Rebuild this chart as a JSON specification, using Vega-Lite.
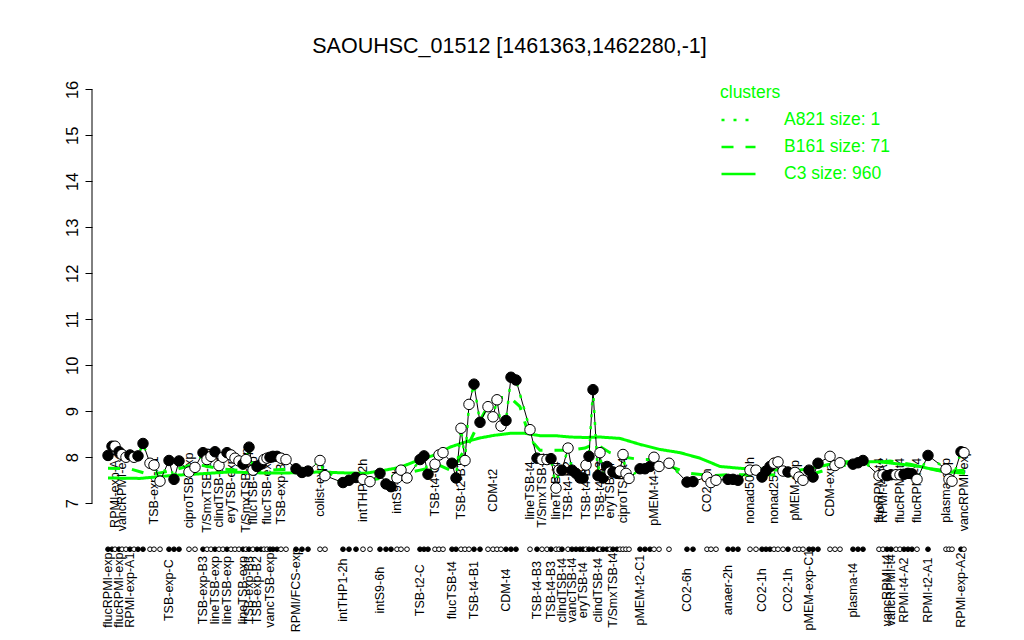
{
"$schema": "https://vega.github.io/schema/vega-lite/v6.json",
"width": 883, "height": 561,
"autosize": {"type": "none"},
"padding": {"left": 92, "top": 71, "right": 49, "bottom": 8},
"background": "white",
"title": {"text": "SAOUHSC_01512 [1461363,1462280,-1]", "fontSize": 21.5, "font": "Liberation Sans", "fontWeight": "normal", "anchor": "middle", "dx": -24, "offset": 17, "dy": 20, "baseline": "alphabetic", "color": "black"},
"config": {"view": {"stroke": null}, "font": "Liberation Sans"},
"datasets": {
"pts": [
{"p":8,"y":8.04,"f":1,"lb":"flucRPMI-exp"},{"p":12,"y":8.24,"f":1},{"p":15,"y":8.24,"f":0,"lb":"RPMI-exp-A2"},{"p":19,"y":8.12,"f":1,"lb":"flucRPMI-exp"},{"p":22,"y":8.06,"f":0,"lb":"vancRPMI-exp"},{"p":26,"y":8.0,"f":0},{"p":30,"y":8.05,"f":1,"lb":"RPMI-exp-A1"},{"p":34,"y":8.0,"f":0},{"p":38,"y":8.03,"f":1},{"p":43,"y":8.3,"f":1},
{"p":50,"y":7.87,"f":0},{"p":54,"y":7.83,"f":0,"lb":"TSB-exp-A1"},{"p":60,"y":7.48,"f":0},
{"p":69,"y":7.93,"f":1,"lb":"TSB-exp-C"},{"p":74,"y":7.52,"f":1},{"p":79,"y":7.92,"f":1},
{"p":89,"y":7.68,"f":0,"lb":"ciproTSB-exp"},{"p":95,"y":7.78,"f":0},
{"p":103,"y":8.1,"f":1,"lb":"TSB-exp-B3"},{"p":107,"y":7.95,"f":0,"lb":"T/SmxTSB-exp"},{"p":111,"y":8.02,"f":0},{"p":115,"y":8.12,"f":1,"lb":"lineTSB-exp"},{"p":119,"y":7.82,"f":0,"lb":"clindTSB-exp"},{"p":123,"y":8.0,"f":0},{"p":127,"y":8.1,"f":1,"lb":"lineTSB-exp"},{"p":131,"y":8.05,"f":0,"lb":"eryTSB-exp"},{"p":135,"y":7.98,"f":0},{"p":139,"y":7.92,"f":0},{"p":143,"y":7.85,"f":1,"lb":"lineTSB-exp"},{"p":146,"y":7.95,"f":0,"lb":"T/SmxTSB-exp"},{"p":149,"y":8.22,"f":1,"lb":"TSB-exp-B3"},{"p":153,"y":7.72,"f":0,"lb":"flucTSB-exp"},{"p":157,"y":7.8,"f":1,"lb":"TSB-exp-B2"},{"p":161,"y":7.85,"f":1},{"p":164,"y":7.95,"f":0},{"p":167,"y":7.98,"f":0,"lb":"flucTSB-exp"},{"p":170,"y":8.0,"f":1,"lb":"vancTSB-exp"},{"p":173,"y":8.02,"f":1},{"p":177,"y":8.02,"f":1},{"p":181,"y":7.98,"f":0,"lb":"TSB-exp-B1"},{"p":186,"y":7.95,"f":0},
{"p":196,"y":7.75,"f":1,"lb":"RPMI/FCS-exp"},{"p":202,"y":7.67,"f":1},{"p":208,"y":7.7,"f":1},
{"p":220,"y":7.93,"f":0,"lb":"colist-exp"},{"p":225,"y":7.6,"f":0},
{"p":243,"y":7.45,"f":1,"lb":"intTHP1-2h"},{"p":249,"y":7.5,"f":1},{"p":256,"y":7.56,"f":1},
{"p":263,"y":7.52,"f":0,"lb":"intTHP1-2h"},{"p":270,"y":7.47,"f":0},
{"p":280,"y":7.65,"f":1,"lb":"intS9-6h"},{"p":286,"y":7.42,"f":1},{"p":291,"y":7.36,"f":1},{"p":297,"y":7.55,"f":0,"lb":"intS9-2h"},{"p":301,"y":7.72,"f":0},{"p":307,"y":7.55,"f":0},
{"p":320,"y":7.95,"f":1,"lb":"TSB-t2-C"},{"p":324,"y":8.03,"f":1},{"p":328,"y":7.63,"f":1},{"p":335,"y":7.85,"f":0,"lb":"TSB-t4-C"},{"p":339,"y":8.05,"f":0},{"p":343,"y":8.1,"f":0},
{"p":352,"y":7.87,"f":1,"lb":"flucTSB-t4"},{"p":356,"y":7.55,"f":1},{"p":361,"y":8.63,"f":0,"lb":"TSB-t2-B1"},{"p":365,"y":7.93,"f":0},{"p":369,"y":9.15,"f":0},{"p":374,"y":9.59,"f":1,"lb":"TSB-t4-B1"},{"p":380,"y":8.76,"f":1},
{"p":388,"y":9.1,"f":0},{"p":393,"y":8.88,"f":0,"lb":"CDM-t2"},{"p":397,"y":9.25,"f":0},{"p":401,"y":8.68,"f":0},{"p":406,"y":8.8,"f":1,"lb":"CDM-t4"},{"p":411,"y":9.74,"f":1},{"p":416,"y":9.68,"f":1},
{"p":430,"y":8.6,"f":0,"lb":"lineTSB-t4"},{"p":437,"y":7.98,"f":1,"lb":"TSB-t4-B3"},{"p":442,"y":7.95,"f":0,"lb":"T/SmxTSB-t4"},{"p":447,"y":7.95,"f":0},{"p":451,"y":7.97,"f":1,"lb":"TSB-t4-B3"},
{"p":456,"y":7.33,"f":0,"lb":"lineTSB-t4"},{"p":459,"y":7.72,"f":0},{"p":462,"y":7.72,"f":1,"lb":"clindTSB-t4"},{"p":468,"y":8.2,"f":0,"lb":"TSB-t4-B2"},{"p":472,"y":7.72,"f":1,"lb":"vancTSB-t4"},{"p":476,"y":7.65,"f":1},{"p":480,"y":7.55,"f":1},{"p":483,"y":7.55,"f":1,"lb":"eryTSB-t4"},{"p":486,"y":7.83,"f":0,"lb":"TSB-t4-B1"},{"p":489,"y":8.02,"f":1},{"p":493,"y":9.47,"f":1},{"p":498,"y":7.6,"f":1,"lb":"clindTSB-t4"},{"p":500,"y":8.1,"f":0,"lb":"TSB-t4-B3"},{"p":503,"y":7.55,"f":1},{"p":507,"y":7.8,"f":1},{"p":510,"y":7.68,"f":0,"lb":"eryTSB-t4"},{"p":513,"y":7.68,"f":1,"lb":"T/SmxTSB-t4"},{"p":517,"y":7.65,"f":1},{"p":520,"y":7.7,"f":0},{"p":523,"y":8.06,"f":0,"lb":"ciproTSB-t4"},{"p":526,"y":7.65,"f":0},{"p":529,"y":7.54,"f":0},
{"p":540,"y":7.75,"f":1,"lb":"pMEM-t2-C1"},{"p":545,"y":7.75,"f":1},{"p":550,"y":7.8,"f":1},{"p":554,"y":8.0,"f":0,"lb":"pMEM-t4-C1"},{"p":559,"y":7.8,"f":0},
{"p":569,"y":7.87,"f":0},
{"p":587,"y":7.46,"f":1,"lb":"CO2-6h"},{"p":593,"y":7.47,"f":1},
{"p":607,"y":7.57,"f":0,"lb":"CO2-2h"},{"p":611,"y":7.45,"f":0},{"p":616,"y":7.5,"f":0},
{"p":628,"y":7.52,"f":1,"lb":"anaer-2h"},{"p":633,"y":7.52,"f":1},{"p":638,"y":7.5,"f":1},
{"p":650,"y":7.72,"f":0,"lb":"nonad50-1h"},{"p":656,"y":7.72,"f":0},{"p":662,"y":7.57,"f":1,"lb":"CO2-1h"},{"p":666,"y":7.7,"f":1},{"p":670,"y":7.8,"f":1},{"p":674,"y":7.87,"f":0,"lb":"nonad25-1h"},{"p":678,"y":7.9,"f":0},{"p":683,"y":7.7,"f":0},{"p":688,"y":7.68,"f":1,"lb":"CO2-1h"},
{"p":695,"y":7.67,"f":0,"lb":"pMEM-exp"},{"p":699,"y":7.57,"f":0},{"p":703,"y":7.5,"f":0},{"p":709,"y":7.72,"f":1,"lb":"pMEM-exp-C1"},{"p":713,"y":7.57,"f":1},{"p":718,"y":7.87,"f":1},
{"p":730,"y":8.02,"f":0,"lb":"CDM-exp"},{"p":735,"y":7.82,"f":0},{"p":740,"y":7.88,"f":0},
{"p":753,"y":7.85,"f":1,"lb":"plasma-t4"},{"p":758,"y":7.88,"f":1},{"p":763,"y":7.93,"f":1},
{"p":779,"y":7.6,"f":0,"lb":"flucRPMI-t4"},{"p":783,"y":7.62,"f":0,"lb":"RPMI-t4-A2"},{"p":787,"y":7.6,"f":1,"lb":"vancRPMI-t4"},{"p":791,"y":7.62,"f":1,"lb":"vancRPMI-t4"},{"p":796,"y":7.62,"f":0},{"p":800,"y":7.62,"f":0,"lb":"flucRPMI-t4"},{"p":804,"y":7.63,"f":1,"lb":"RPMI-t4-A2"},{"p":808,"y":7.65,"f":1},{"p":812,"y":7.64,"f":1},{"p":817,"y":7.52,"f":0,"lb":"flucRPMI-t4"},
{"p":828,"y":8.04,"f":1,"lb":"RPMI-t2-A1"},
{"p":846,"y":7.74,"f":0,"lb":"plasma-exp"},{"p":849,"y":7.52,"f":0},{"p":852,"y":7.48,"f":0},
{"p":861,"y":8.12,"f":1,"lb":"RPMI-exp-A2"},{"p":864,"y":8.1,"f":0,"lb":"vancRPMI-exp"}
],
"cl": [
{"p":8,"y":7.55,"c":"C3 size: 960"},{"p":40,"y":7.54,"c":"C3 size: 960"},{"p":70,"y":7.6,"c":"C3 size: 960"},{"p":100,"y":7.64,"c":"C3 size: 960"},{"p":130,"y":7.68,"c":"C3 size: 960"},{"p":160,"y":7.66,"c":"C3 size: 960"},{"p":190,"y":7.66,"c":"C3 size: 960"},{"p":220,"y":7.68,"c":"C3 size: 960"},{"p":245,"y":7.66,"c":"C3 size: 960"},{"p":265,"y":7.65,"c":"C3 size: 960"},{"p":285,"y":7.72,"c":"C3 size: 960"},{"p":300,"y":7.78,"c":"C3 size: 960"},{"p":320,"y":7.95,"c":"C3 size: 960"},{"p":335,"y":8.05,"c":"C3 size: 960"},{"p":350,"y":8.22,"c":"C3 size: 960"},{"p":365,"y":8.33,"c":"C3 size: 960"},{"p":380,"y":8.42,"c":"C3 size: 960"},{"p":395,"y":8.48,"c":"C3 size: 960"},{"p":410,"y":8.52,"c":"C3 size: 960"},{"p":425,"y":8.52,"c":"C3 size: 960"},{"p":440,"y":8.47,"c":"C3 size: 960"},{"p":455,"y":8.47,"c":"C3 size: 960"},{"p":470,"y":8.44,"c":"C3 size: 960"},{"p":485,"y":8.43,"c":"C3 size: 960"},{"p":500,"y":8.44,"c":"C3 size: 960"},{"p":520,"y":8.41,"c":"C3 size: 960"},{"p":540,"y":8.28,"c":"C3 size: 960"},{"p":560,"y":8.17,"c":"C3 size: 960"},{"p":580,"y":8.1,"c":"C3 size: 960"},{"p":600,"y":7.98,"c":"C3 size: 960"},{"p":620,"y":7.8,"c":"C3 size: 960"},{"p":640,"y":7.76,"c":"C3 size: 960"},{"p":660,"y":7.74,"c":"C3 size: 960"},{"p":680,"y":7.72,"c":"C3 size: 960"},{"p":700,"y":7.72,"c":"C3 size: 960"},{"p":720,"y":7.8,"c":"C3 size: 960"},{"p":740,"y":7.9,"c":"C3 size: 960"},{"p":760,"y":7.9,"c":"C3 size: 960"},{"p":780,"y":7.9,"c":"C3 size: 960"},{"p":800,"y":7.85,"c":"C3 size: 960"},{"p":820,"y":7.8,"c":"C3 size: 960"},{"p":840,"y":7.7,"c":"C3 size: 960"},{"p":865,"y":7.65,"c":"C3 size: 960"},
{"p":8,"y":7.76,"c":"B161 size: 71"},{"p":30,"y":7.75,"c":"B161 size: 71"},{"p":50,"y":7.62,"c":"B161 size: 71"},{"p":70,"y":7.7,"c":"B161 size: 71"},{"p":95,"y":7.85,"c":"B161 size: 71"},{"p":120,"y":7.75,"c":"B161 size: 71"},{"p":145,"y":7.7,"c":"B161 size: 71"},{"p":170,"y":7.72,"c":"B161 size: 71"},{"p":195,"y":7.75,"c":"B161 size: 71"},{"p":220,"y":7.72,"c":"B161 size: 71"},{"p":245,"y":7.52,"c":"B161 size: 71"},{"p":270,"y":7.5,"c":"B161 size: 71"},{"p":295,"y":7.6,"c":"B161 size: 71"},{"p":320,"y":7.72,"c":"B161 size: 71"},{"p":340,"y":7.82,"c":"B161 size: 71"},{"p":352,"y":7.7,"c":"B161 size: 71"},{"p":360,"y":8.0,"c":"B161 size: 71"},{"p":370,"y":8.35,"c":"B161 size: 71"},{"p":380,"y":8.8,"c":"B161 size: 71"},{"p":390,"y":9.2,"c":"B161 size: 71"},{"p":400,"y":9.3,"c":"B161 size: 71"},{"p":410,"y":9.3,"c":"B161 size: 71"},{"p":420,"y":9.1,"c":"B161 size: 71"},{"p":430,"y":8.4,"c":"B161 size: 71"},{"p":440,"y":8.15,"c":"B161 size: 71"},{"p":455,"y":8.15,"c":"B161 size: 71"},{"p":470,"y":8.15,"c":"B161 size: 71"},{"p":485,"y":8.2,"c":"B161 size: 71"},{"p":495,"y":8.3,"c":"B161 size: 71"},{"p":510,"y":8.1,"c":"B161 size: 71"},{"p":525,"y":8.0,"c":"B161 size: 71"},{"p":540,"y":7.95,"c":"B161 size: 71"},{"p":555,"y":7.95,"c":"B161 size: 71"},{"p":570,"y":7.8,"c":"B161 size: 71"},{"p":590,"y":7.65,"c":"B161 size: 71"},{"p":610,"y":7.6,"c":"B161 size: 71"},{"p":630,"y":7.62,"c":"B161 size: 71"},{"p":650,"y":7.62,"c":"B161 size: 71"},{"p":670,"y":7.62,"c":"B161 size: 71"},{"p":690,"y":7.6,"c":"B161 size: 71"},{"p":710,"y":7.62,"c":"B161 size: 71"},{"p":730,"y":7.75,"c":"B161 size: 71"},{"p":750,"y":7.85,"c":"B161 size: 71"},{"p":770,"y":7.87,"c":"B161 size: 71"},{"p":790,"y":7.92,"c":"B161 size: 71"},{"p":810,"y":7.85,"c":"B161 size: 71"},{"p":830,"y":7.75,"c":"B161 size: 71"},{"p":850,"y":7.7,"c":"B161 size: 71"},{"p":865,"y":7.72,"c":"B161 size: 71"}
]
},
"layer": [
{"data": {"name": "pts"},
 "transform": [{"filter": "datum.f == 0 && isValid(datum.lb)"}],
 "mark": {"type": "text", "angle": 270, "align": "center", "baseline": "middle", "fontSize": 12.5, "font": "Liberation Sans", "color": "black"},
 "encoding": {"x": {"field": "p", "type": "quantitative", "scale": {"domain": [-8, 875], "nice": false, "zero": false}, "axis": null},
  "y": {"datum": 7.28, "type": "quantitative"},
  "text": {"field": "lb"}}},
{"data": {"name": "cl"},
 "mark": {"type": "line", "color": "#00ff00", "strokeWidth": 3},
 "encoding": {"x": {"field": "p", "type": "quantitative"},
  "y": {"field": "y", "type": "quantitative"},
  "strokeDash": {"field": "c", "type": "nominal", "scale": {"domain": ["A821 size: 1", "B161 size: 71", "C3 size: 960"], "range": [[3, 9], [12, 12], [1, 0]]},
   "legend": {"orient": "none", "legendX": 628, "legendY": 13, "title": "clusters", "titleColor": "#00ff00", "titleFontSize": 17.5, "titleFont": "Liberation Sans", "titleFontWeight": "normal", "labelColor": "#00ff00", "labelFontSize": 17.5, "labelFont": "Liberation Sans", "symbolType": "stroke", "symbolStrokeColor": "#00ff00", "symbolStrokeWidth": 2.5, "symbolSize": 1156, "rowPadding": -11, "labelOffset": 27, "titlePadding": 0}}}},
{"data": {"name": "pts"},
 "mark": {"type": "line", "color": "black", "strokeWidth": 1},
 "encoding": {"x": {"field": "p", "type": "quantitative"},
  "y": {"field": "y", "type": "quantitative", "scale": {"domain": [4.2, 16.4], "nice": false, "zero": false},
   "axis": {"values": [7, 8, 9, 10, 11, 12, 13, 14, 15, 16], "domain": false, "grid": false, "ticks": true, "tickSize": 7, "tickColor": "black", "tickWidth": 1, "labelAngle": 270, "labelAlign": "center", "labelBaseline": "bottom", "labelPadding": 5, "labelFontSize": 16.5, "labelColor": "black", "labelFont": "Liberation Sans", "title": null}}}},
{"data": {"name": "pts"},
 "mark": {"type": "line", "color": "#00ff00", "strokeWidth": 2.5},
 "encoding": {"x": {"field": "p", "type": "quantitative"},
  "y": {"field": "y", "type": "quantitative"},
  "strokeDash": {"datum": "A821 size: 1"}}},
{"data": {"name": "pts"},
 "mark": {"type": "point", "shape": "circle", "filled": true, "stroke": "black", "strokeWidth": 1, "size": 110, "opacity": 1},
 "encoding": {"x": {"field": "p", "type": "quantitative"},
  "y": {"field": "y", "type": "quantitative"},
  "fill": {"condition": {"test": "datum.f == 1", "value": "black"}, "value": "white"}}},
{"data": {"name": "pts"},
 "mark": {"type": "point", "shape": "circle", "filled": true, "stroke": "black", "strokeWidth": 1, "size": 22, "opacity": 1},
 "encoding": {"x": {"field": "p", "type": "quantitative"},
  "y": {"datum": 6.0, "type": "quantitative"},
  "fill": {"condition": {"test": "datum.f == 1", "value": "black"}, "value": "white"}}},
{"data": {"name": "pts"},
 "transform": [{"filter": "datum.f == 1 && isValid(datum.lb)"}],
 "mark": {"type": "text", "angle": 270, "align": "center", "baseline": "middle", "fontSize": 12.5, "font": "Liberation Sans", "color": "black"},
 "encoding": {"x": {"field": "p", "type": "quantitative"},
  "y": {"datum": 5.11, "type": "quantitative"},
  "text": {"field": "lb"}}},
{"data": {"values": [{}]},
 "mark": {"type": "rule", "color": "black", "strokeWidth": 1},
 "encoding": {"x": {"datum": -8, "type": "quantitative"}, "y": {"datum": 7, "type": "quantitative"}, "y2": {"datum": 16}}}
]
}
